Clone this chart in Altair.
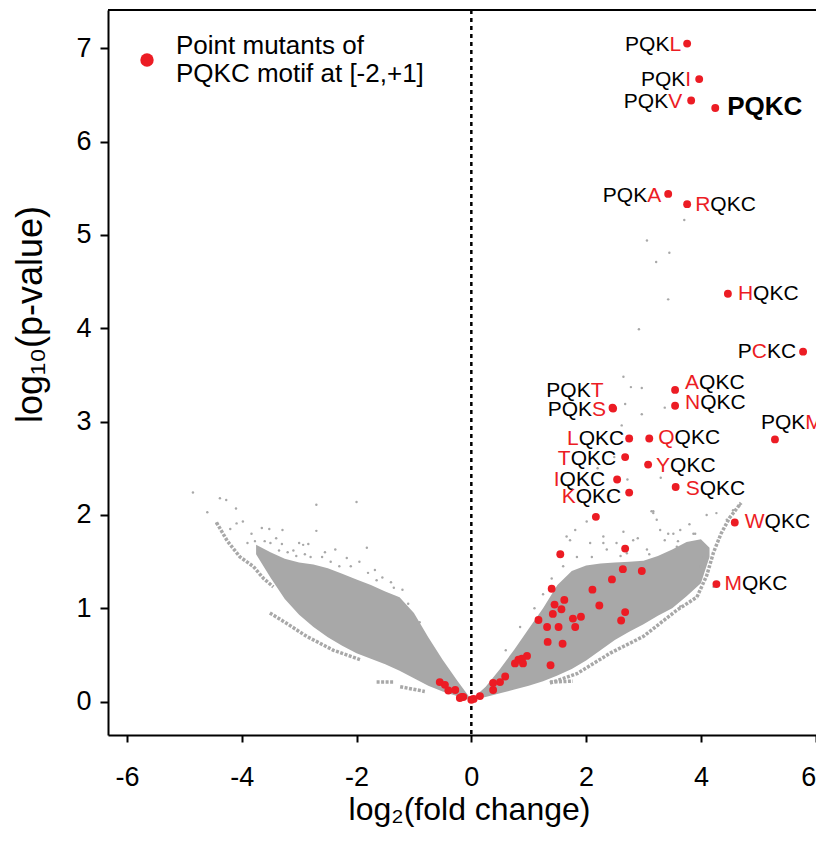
import altair as alt
import pandas as pd

# ---------------- data ----------------
# labelled red points
lab_names = ["PQKL", "PQKI", "PQKV", "PQKC", "PQKA", "RQKC", "HQKC", "PCKC",
             "AQKC", "NQKC", "PQKT", "PQKS", "PQKM", "LQKC", "QQKC", "TQKC",
             "YQKC", "IQKC", "KQKC", "SQKC", "WQKC", "MQKC"]
lab_x = [3.76, 3.97, 3.83, 4.25, 3.43, 3.76, 4.47, 5.78,
         3.55, 3.55, 2.46, 2.47, 5.29, 2.75, 3.10, 2.68,
         3.08, 2.54, 2.75, 3.56, 4.59, 4.27]
lab_y = [7.05, 6.67, 6.44, 6.36, 5.44, 5.33, 4.37, 3.75,
         3.34, 3.17, 3.15, 3.14, 2.81, 2.82, 2.82, 2.62,
         2.54, 2.38, 2.24, 2.30, 1.92, 1.26]

# unlabelled red points
red_x = [2.17, 1.55, 2.68, 2.64, 2.97, 2.45, 1.40, 2.11, 1.62, 1.45, 1.57, 1.42,
         2.23, 2.68, 2.61, 1.77, 1.91, 1.81, 1.17, 1.32, 1.52, 1.33, 1.59, 1.38,
         0.97, 0.88, 0.82, 0.76, 0.90, 0.59, 0.50, 0.38, 0.38, 0.15, 0.00, 0.04,
         -0.14, -0.20, -0.55, -0.46, -0.40, -0.28, -0.17]
red_y = [1.98, 1.58, 1.64, 1.42, 1.40, 1.31, 1.21, 1.20, 1.09, 1.04, 0.99, 0.94,
         1.03, 0.96, 0.87, 0.89, 0.91, 0.80, 0.875, 0.80, 0.80, 0.64, 0.62, 0.39,
         0.49, 0.46, 0.45, 0.41, 0.41, 0.27, 0.21, 0.20, 0.125, 0.06, 0.02, 0.03,
         0.05, 0.04, 0.21, 0.18, 0.12, 0.125, 0.05]

# dense grey cloud: upper / lower envelopes
left_x = [-3.75, -3.5, -3.25, -3.0, -2.75, -2.5, -2.25, -2.0, -1.75, -1.5, -1.25, -1.0, -0.75, -0.5, -0.25, 0.0]
left_up = [1.68, 1.60, 1.53, 1.49, 1.47, 1.43, 1.37, 1.31, 1.25, 1.18, 1.12, 0.95, 0.69, 0.45, 0.23, 0.02]
left_lo = [1.58, 1.33, 1.10, 0.93, 0.80, 0.69, 0.60, 0.52, 0.46, 0.40, 0.33, 0.25, 0.17, 0.11, 0.06, 0.02]
right_x = [0.0, 0.25, 0.5, 0.75, 1.0, 1.25, 1.5, 1.75, 2.0, 2.25, 2.5, 2.75, 3.0, 3.25, 3.5, 3.75, 4.0, 4.15]
right_up = [0.02, 0.16, 0.35, 0.56, 0.78, 1.00, 1.25, 1.40, 1.46, 1.48, 1.49, 1.50, 1.51, 1.56, 1.63, 1.71, 1.74, 1.65]
right_lo = [0.02, 0.05, 0.09, 0.13, 0.17, 0.22, 0.28, 0.35, 0.44, 0.55, 0.66, 0.75, 0.83, 0.92, 1.00, 1.13, 1.27, 1.55]

# sparse grey streaks
streak_id = ["L1"] * 6 + ["L2"] * 5 + ["L3"] * 2 + ["L4"] * 2 + ["R1"] * 6 + ["R2"] * 6 + ["R3"] * 2
streak_x = [-4.44, -4.25, -4.03, -3.80, -3.62, -3.45,
            -3.51, -3.22, -2.87, -2.40, -1.94,
            -1.65, -1.36,
            -1.24, -0.81,
            1.37, 1.84, 2.42, 3.00, 3.58, 3.93,
            3.93, 4.10, 4.22, 4.35, 4.50, 4.70,
            1.37, 1.77]
streak_y = [1.92, 1.72, 1.55, 1.45, 1.32, 1.23,
            0.95, 0.84, 0.70, 0.55, 0.45,
            0.21, 0.21,
            0.16, 0.11,
            0.20, 0.30, 0.52, 0.70, 0.98, 1.12,
            1.12, 1.35, 1.60, 1.80, 1.97, 2.13,
            0.21, 0.22]

# scattered grey outliers and cloud fringe
grey_x = [-4.85, -4.60, -4.38, -4.27, -4.10, -2.70, -2.00, -2.70, -1.82, -4.44, -4.09, -3.98,
          -3.65, -3.52, -3.29, -3.83, -3.77, -3.30, -3.00, -2.93, -2.84, -2.37, -2.17, -1.68,
          -2.55, -1.95, -1.55, -3.10, -3.40, -2.60, -3.50, -3.20, -2.90, -2.45, -2.10, -1.80,
          -1.40, -1.20, -4.20, -3.90,
          -3.60, -3.35, -3.05, -2.80, -2.30, -1.65, -1.35, -1.10, -0.90,
          3.06, 3.45, 3.22, 3.43, 2.92, 3.71, 2.65, 2.78, 2.97, 2.68, 2.97, 3.37, 2.62, 2.72,
          2.49, 3.17, 4.68, 4.10, 4.27, 4.45, 4.56, 3.52, 3.17, 2.65, 1.66, 1.81, 2.01, 2.40,
          2.20, 3.30, 3.80, 2.90, 2.30, 3.64, 4.22,
          3.14, 3.23, 3.29, 3.37, 3.58, 2.30, 2.36, 2.07, 1.84, 1.72, 2.82, 3.06, 3.43, 3.64,
          3.87, 2.71, 2.53,
          0.60, 0.85, 1.10, 1.25, 1.40, 1.60, 2.10, 2.60, 3.10, 3.60, 3.90, 4.05, 4.00]
grey_y = [2.24, 2.03, 2.18, 2.16, 2.07, 2.11, 2.14, 1.83, 1.65, 1.91, 1.91, 1.93,
          1.86, 1.85, 1.84, 1.80, 1.72, 1.69, 1.70, 1.68, 1.69, 1.63, 1.54, 1.41,
          1.60, 1.50, 1.33, 1.62, 1.75, 1.55, 1.70, 1.60, 1.58, 1.50, 1.45, 1.38,
          1.28, 1.20, 1.85, 1.70,
          1.72, 1.62, 1.56, 1.55, 1.45, 1.30, 1.22, 1.05, 0.85,
          4.94, 4.81, 4.71, 4.31, 3.99, 5.16, 3.48, 3.37, 3.36, 3.19, 3.08, 3.15, 2.96, 2.38,
          2.62, 2.04, 2.11, 2.00, 2.02, 1.95, 2.05, 1.80, 2.02, 1.82, 1.77, 1.84, 1.93, 2.20,
          2.50, 2.40, 1.90, 1.75, 1.70, 1.02, 1.23,
          2.04, 1.95, 1.84, 1.73, 1.66, 1.77, 1.63, 1.70, 1.55, 1.73, 1.73, 1.63, 1.80, 1.84,
          1.80, 1.59, 1.70,
          0.55, 0.80, 1.00, 1.15, 1.32, 1.45, 1.55, 1.56, 1.58, 1.72, 1.80, 1.55, 1.45]

x_ticks = [-6, -4, -2, 0, 2, 4, 6]
y_ticks = [0, 1, 2, 3, 4, 5, 6, 7]
WILD = "PQKC"
legend_lines = ["Point mutants of", "PQKC motif at [-2,+1]"]

# ---------------- layout / style ----------------
WIDTH, HEIGHT = 708, 725
XMIN, XMAX = -6.33, 6.005
YMIN, YMAX = -0.357, 7.41
PXX = WIDTH / (XMAX - XMIN)
PXY = HEIGHT / (YMAX - YMIN)
FONT = "Liberation Sans"
RED = "#ec1c24"
GREY = "#a8a8a8"
LABEL_SIZE = 21
BOLD_SIZE = 26

# label placement: side, gap (px), vertical shift (px, + = down)
place = {
    "PQKL": ("L", 6, 1), "PQKI": ("L", 8, 1), "PQKV": ("L", 9, 1), "PQKC": ("R", 12, -1),
    "PQKA": ("L", 7, 2), "RQKC": ("R", 8, 1), "HQKC": ("R", 10, 0), "PCKC": ("L", 7, 0),
    "AQKC": ("R", 10, -7), "NQKC": ("R", 10, -3), "PQKT": ("L", 9, -17), "PQKS": ("L", 7, 1),
    "PQKM": ("R", -14, -16), "LQKC": ("L", 5, 1), "QQKC": ("R", 9, 0), "TQKC": ("L", 9, 2),
    "YQKC": ("R", 8, 1), "IQKC": ("L", 12, 0), "KQKC": ("L", 8, 4), "SQKC": ("R", 10, 2),
    "WQKC": ("R", 10, 0), "MQKC": ("R", 8, 0),
}

# Arial / Liberation Sans advance widths (per 1000 em)
CW = dict(A=667, B=667, C=722, D=722, E=667, F=611, G=778, H=722, I=278, J=500, K=667,
          L=556, M=833, N=722, O=778, P=667, Q=778, R=722, S=667, T=611, U=722, V=667,
          W=944, X=667, Y=667, Z=611)
CWB = dict(P=667, Q=778, K=722, C=722)


def tw(s, size, table=CW):
    return sum(table[c] for c in s) * size / 1000.0


runs = []
for name, x, y in zip(lab_names, lab_x, lab_y):
    side, gap, dy = place[name]
    if name == WILD:
        w = tw(name, BOLD_SIZE, CWB)
        start = gap if side == "R" else -(gap + w)
        runs.append(dict(x=x + start / PXX, y=y - dy / PXY, text=name, kind="bold"))
        continue
    i = next(k for k in range(len(name)) if name[k] != WILD[k])
    w = tw(name, LABEL_SIZE)
    start = gap if side == "R" else -(gap + w)
    for seg, kind, off in [(name[:i], "black", 0), (name[i], "red", i), (name[i + 1:], "black", i + 1)]:
        if not seg:
            continue
        px = start + tw(name[:off], LABEL_SIZE)
        runs.append(dict(x=x + px / PXX, y=y - dy / PXY, text=seg, kind=kind))
runs = pd.DataFrame(runs)

xs = alt.Scale(domain=[XMIN, XMAX], nice=False, zero=False)
ys = alt.Scale(domain=[YMIN, YMAX], nice=False, zero=False)

x_axis = alt.Axis(values=x_ticks, labelExpr="datum.value + ''", grid=False,
                  title="log₂(fold change)", titleFontSize=32, titleFont=FONT,
                  titleFontWeight="normal", titleColor="black",
                  titleX=361, titleY=84, titleBaseline="alphabetic", titleAlign="center",
                  labelFontSize=27, labelFont=FONT, labelColor="black", labelPadding=22,
                  labelAlign={"condition": {"test": "datum.value == 6", "value": "right"},
                              "value": "center"},
                  tickSize=7, tickWidth=2, tickColor="black",
                  domainColor="black", domainWidth=2)
y_axis = alt.Axis(values=y_ticks, labelExpr="datum.value + ''", grid=False,
                  title="log₁₀(p-value)", titleFontSize=36, titleFont=FONT,
                  titleFontWeight="normal", titleColor="black", titleAngle=270,
                  titleX=-67, titleY=304, titleBaseline="alphabetic", titleAlign="center",
                  labelFontSize=27, labelFont=FONT, labelColor="black", labelPadding=9,
                  tickSize=8, tickWidth=2, tickColor="black",
                  domainColor="black", domainWidth=2)


def X(field="x"):
    return alt.X(f"{field}:Q", scale=xs, axis=x_axis)


def Y(field="y"):
    return alt.Y(f"{field}:Q", scale=ys, axis=y_axis)


cloud_df = pd.concat([
    pd.DataFrame({"x": left_x, "up": left_up, "lo": left_lo, "wing": "left"}),
    pd.DataFrame({"x": right_x, "up": right_up, "lo": right_lo, "wing": "right"}),
])
cloud = alt.Chart(cloud_df).mark_area(color=GREY, opacity=1).encode(
    x=X("x"), y=Y("up"), y2="lo:Q", detail="wing:N")

streak_df = pd.DataFrame({"x": streak_x, "y": streak_y, "sid": streak_id})
streaks = alt.Chart(streak_df).mark_line(color=GREY, strokeWidth=3.5, strokeDash=[3, 1.5]).encode(
    x=X(), y=Y(), detail="sid:N")

grey_df = pd.DataFrame({"x": grey_x, "y": grey_y})
greys = alt.Chart(grey_df).mark_circle(color=GREY, size=6, opacity=1).encode(x=X(), y=Y())

top_rule = alt.Chart(pd.DataFrame({"y": [YMAX]})).mark_rule(color="black", strokeWidth=2).encode(y=Y())
zero_rule = alt.Chart(pd.DataFrame({"x": [0]})).mark_rule(
    color="black", strokeWidth=2.5, strokeDash=[4, 4]).encode(x=X())

red_df = pd.concat([
    pd.DataFrame({"x": lab_x, "y": lab_y}),
    pd.DataFrame({"x": red_x, "y": red_y}),
])
red_df["grp"] = "mut"
legend_expr = "[" + ", ".join("'" + s + "'" for s in legend_lines) + "]"
reds = alt.Chart(red_df).mark_circle(size=62, opacity=1).encode(
    x=X(), y=Y(),
    color=alt.Color("grp:N", scale=alt.Scale(domain=["mut"], range=[RED]),
                    legend=alt.Legend(title=None, orient="none", legendX=26, legendY=37,
                                      symbolType="circle", symbolSize=180, symbolStrokeWidth=0,
                                      labelFontSize=26, labelFont=FONT, labelColor="black",
                                      labelBaseline="line-bottom",
                                      labelOffset=16, labelLimit=600, padding=0,
                                      labelExpr=legend_expr)))

txt_black = alt.Chart(runs[runs.kind == "black"]).mark_text(
    align="left", baseline="middle", font=FONT, fontSize=LABEL_SIZE, color="black").encode(
    x=X(), y=Y(), text="text:N")
txt_red = alt.Chart(runs[runs.kind == "red"]).mark_text(
    align="left", baseline="middle", font=FONT, fontSize=LABEL_SIZE, color=RED).encode(
    x=X(), y=Y(), text="text:N")
txt_bold = alt.Chart(runs[runs.kind == "bold"]).mark_text(
    align="left", baseline="middle", font=FONT, fontSize=BOLD_SIZE, fontWeight="bold",
    color="black").encode(x=X(), y=Y(), text="text:N")

chart = alt.layer(cloud, streaks, greys, top_rule, zero_rule, reds,
                  txt_black, txt_red, txt_bold).properties(
    width=WIDTH, height=HEIGHT,
    autosize=alt.AutoSizeParams(type="none"),
    padding={"left": 100, "top": 2, "right": 0, "bottom": 98},
).configure_view(strokeWidth=0)

chart.save("out.html", embed_options={"renderer": "svg", "actions": False})
